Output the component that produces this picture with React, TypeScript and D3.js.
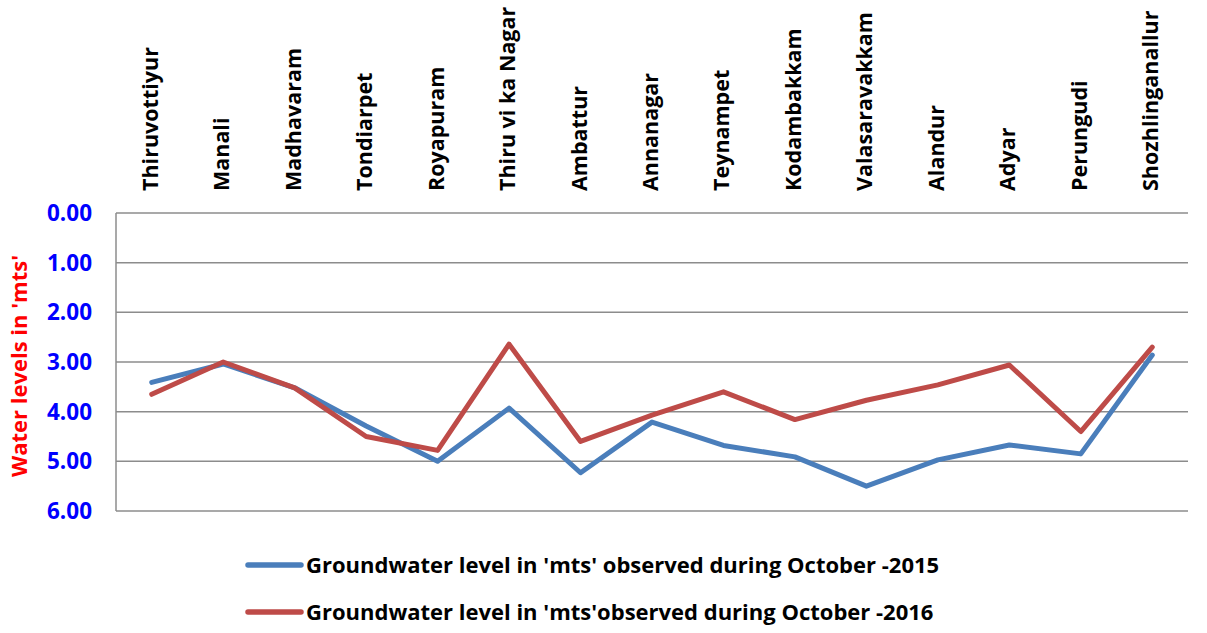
import { useMemo } from "react";
import * as d3 from "d3";

const zones = [
  "Thiruvottiyur",
  "Manali",
  "Madhavaram",
  "Tondiarpet",
  "Royapuram",
  "Thiru vi ka Nagar",
  "Ambattur",
  "Annanagar",
  "Teynampet",
  "Kodambakkam",
  "Valasaravakkam",
  "Alandur",
  "Adyar",
  "Perungudi",
  "Shozhlinganallur",
];

const oct2015 = [3.41, 3.04, 3.52, 4.29, 5.0, 3.93, 5.23, 4.21, 4.68, 4.91, 5.5, 4.97, 4.67, 4.85, 2.86];
const oct2016 = [3.65, 3.0, 3.52, 4.5, 4.78, 2.64, 4.6, 4.07, 3.6, 4.16, 3.77, 3.46, 3.06, 4.4, 2.7];

const yTicks = [0, 1, 2, 3, 4, 5, 6];

const seriesNames = [
  "Groundwater level in 'mts' observed during October -2015",
  "Groundwater level in 'mts'observed during October -2016",
];
const colors = ["#4a7ebb", "#be4b48"];

const width = 1207;
const height = 633;
const margin = { top: 213, right: 19, bottom: 122, left: 116 };
const font = "'Open Sans', 'Noto Sans', sans-serif";

export default function App() {
  const x = useMemo(
    () => d3.scaleBand().domain(zones).range([margin.left, width - margin.right]),
    []
  );
  const y = useMemo(
    () => d3.scaleLinear().domain([0, 6]).range([margin.top, height - margin.bottom]),
    []
  );

  const line = d3
    .line<number>()
    .x((_, i) => (x(zones[i]) as number) + x.bandwidth() / 2)
    .y((d) => y(d));

  const series = [oct2015, oct2016];

  return (
    <svg
      width={width}
      height={height}
      style={{ position: "absolute", left: 0, top: 0, background: "#fff" }}
    >
      {/* gridlines */}
      {yTicks.map((t) => (
        <line
          key={t}
          x1={margin.left}
          x2={width - margin.right}
          y1={y(t)}
          y2={y(t)}
          stroke="#8c8c8c"
          strokeWidth={1.5}
        />
      ))}
      <line
        x1={margin.left}
        x2={margin.left}
        y1={y(0)}
        y2={y(6)}
        stroke="#8c8c8c"
        strokeWidth={1.5}
      />

      {/* y tick labels */}
      {yTicks.map((t) => (
        <text
          key={t}
          x={92}
          y={y(t)}
          dy="0.36em"
          textAnchor="end"
          fill="#0000ff"
          fontFamily={font}
          fontWeight="bold"
          fontSize={22.5}
        >
          {t.toFixed(2)}
        </text>
      ))}

      <text
        transform={`translate(27, ${(y(0) + y(6)) / 2 + 4}) rotate(-90)`}
        textAnchor="middle"
        fill="#ff0000"
        fontFamily={font}
        fontWeight="bold"
        fontSize={22}
      >
        Water levels in 'mts'
      </text>

      {/* category labels */}
      {zones.map((z) => (
        <text
          key={z}
          transform={`translate(${(x(z) as number) + x.bandwidth() / 2 + 6}, 191) rotate(-90)`}
          textAnchor="start"
          fill="#000"
          fontFamily={font}
          fontWeight="bold"
          fontSize={21.5}
        >
          {z}
        </text>
      ))}

      {/* lines */}
      {series.map((s, i) => (
        <path
          key={i}
          d={line(s) ?? ""}
          fill="none"
          stroke={colors[i]}
          strokeWidth={5}
          strokeLinejoin="round"
          strokeLinecap="round"
        />
      ))}

      {/* legend */}
      {seriesNames.map((n, i) => (
        <g key={n} transform={`translate(248, ${565 + i * 47})`}>
          <line x1={0} x2={53} y1={0} y2={0} stroke={colors[i]} strokeWidth={5.5} strokeLinecap="round" />
          <text
            x={58}
            y={0}
            dy="0.36em"
            fill="#000"
            fontFamily={font}
            fontWeight="bold"
            fontSize={22}
          >
            {n}
          </text>
        </g>
      ))}
    </svg>
  );
}
